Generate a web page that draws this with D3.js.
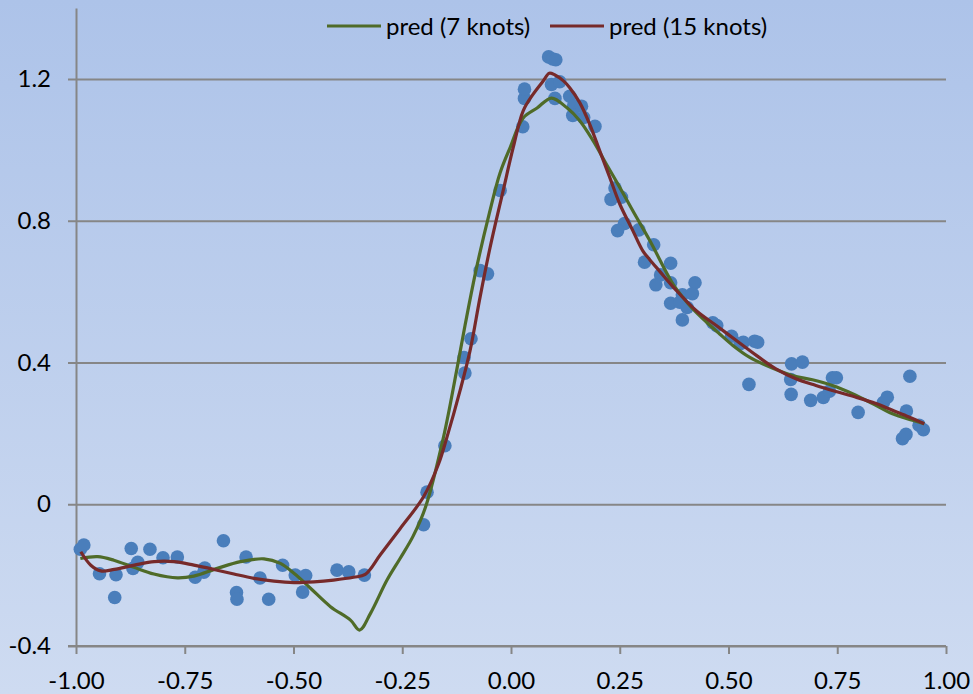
<!DOCTYPE html>
<html>
<head>
<meta charset="utf-8">
<script src="https://cdn.jsdelivr.net/npm/d3@7"></script>
<style>
  html, body { margin: 0; padding: 0; background: #c0d1ee; }
  svg { display: block; }
  text { font-family: Lato, "Open Sans", "Liberation Sans", sans-serif; fill: #000; }
</style>
</head>
<body>
<svg id="chart" width="973" height="694"></svg>
<script>
// Observed data (scatter)
const obsX = [-0.990,-0.982,-0.946,-0.908,-0.911,-0.873,-0.869,-0.858,-0.830,-0.800,-0.767,-0.726,-0.704,-0.706,-0.661,-0.631,-0.630,-0.609,-0.577,-0.557,-0.525,-0.496,-0.472,-0.479,-0.400,-0.373,-0.337,
  -0.201,-0.193,-0.152,-0.106,-0.108,-0.092,-0.071,-0.054,-0.025,
  0.027,0.031,0.031,0.0865,0.096,0.103,0.093,0.112,0.101,0.135,0.144,0.162,0.142,0.167,0.193,
  0.239,0.230,0.254,0.261,0.245,0.294,0.307,0.328,0.367,0.344,0.333,0.367,0.423,0.394,0.417,0.367,0.388,0.405,0.394,0.464,0.473,0.507,0.527,0.534,0.560,0.567,0.547,
  0.645,0.670,0.643,0.644,0.689,0.718,0.732,0.739,0.748,0.798,0.856,0.865,0.917,0.909,0.938,0.948,0.900,0.908];
const obsY = [-0.127,-0.115,-0.196,-0.199,-0.263,-0.125,-0.181,-0.164,-0.127,-0.151,-0.149,-0.206,-0.180,-0.192,-0.103,-0.249,-0.268,-0.149,-0.208,-0.268,-0.172,-0.200,-0.201,-0.248,-0.186,-0.191,-0.200,
  -0.058,0.034,0.165,0.370,0.414,0.467,0.659,0.650,0.885,
  1.065,1.145,1.171,1.262,1.256,1.254,1.184,1.192,1.145,1.151,1.124,1.123,1.097,1.091,1.066,
  0.892,0.860,0.866,0.792,0.772,0.774,0.683,0.732,0.680,0.647,0.619,0.625,0.625,0.591,0.594,0.567,0.570,0.555,0.520,0.512,0.504,0.474,0.453,0.457,0.460,0.457,0.338,
  0.396,0.401,0.352,0.310,0.293,0.301,0.319,0.357,0.357,0.259,0.287,0.302,0.361,0.263,0.223,0.210,0.185,0.197];

// Spline prediction with 7 knots
const pred7X = [-0.990,-0.950,-0.913,-0.867,-0.821,-0.767,-0.729,-0.675,-0.622,-0.568,-0.530,-0.499,-0.461,-0.415,-0.369,-0.348,-0.323,-0.285,-0.255,-0.225,-0.197,-0.155,-0.125,-0.102,-0.079,-0.050,-0.025,-0.002,0.028,0.060,0.093,0.128,0.158,0.189,0.219,0.250,0.280,0.319,0.372,0.395,0.418,0.449,0.479,0.510,0.548,0.586,0.647,0.693,0.739,0.785,0.831,0.877,0.923,0.950];
const pred7Y = [-0.153,-0.148,-0.158,-0.178,-0.197,-0.208,-0.203,-0.181,-0.162,-0.154,-0.167,-0.195,-0.237,-0.289,-0.327,-0.355,-0.308,-0.214,-0.153,-0.090,-0.010,0.190,0.377,0.528,0.668,0.820,0.935,1.006,1.090,1.118,1.146,1.119,1.082,1.025,0.960,0.894,0.828,0.744,0.622,0.584,0.551,0.514,0.481,0.448,0.415,0.392,0.363,0.351,0.335,0.312,0.284,0.255,0.237,0.227];

// Spline prediction with 15 knots
const pred15X = [-0.989,-0.966,-0.943,-0.912,-0.866,-0.820,-0.775,-0.729,-0.683,-0.637,-0.591,-0.545,-0.499,-0.453,-0.408,-0.362,-0.335,-0.300,-0.255,-0.201,-0.167,-0.147,-0.117,-0.094,-0.071,-0.048,-0.018,0.005,0.028,0.051,0.074,0.088,0.101,0.120,0.135,0.158,0.181,0.204,0.227,0.250,0.280,0.303,0.319,0.342,0.380,0.426,0.472,0.518,0.564,0.609,0.655,0.701,0.747,0.793,0.839,0.877,0.915,0.950];
const pred15Y = [-0.134,-0.172,-0.188,-0.184,-0.172,-0.162,-0.162,-0.172,-0.184,-0.197,-0.209,-0.217,-0.221,-0.219,-0.214,-0.206,-0.198,-0.142,-0.069,0.021,0.112,0.190,0.321,0.434,0.585,0.725,0.885,1.006,1.110,1.157,1.194,1.216,1.211,1.195,1.175,1.133,1.072,0.997,0.922,0.847,0.772,0.715,0.690,0.657,0.603,0.546,0.504,0.462,0.420,0.382,0.354,0.335,0.318,0.302,0.284,0.265,0.246,0.227];

const xTickValues = [-1, -0.75, -0.5, -0.25, 0, 0.25, 0.5, 0.75, 1];
const xTickLabels = ["-1.00","-0.75","-0.50","-0.25","0.00","0.25","0.50","0.75","1.00"];
const yTickValues = [-0.4, 0, 0.4, 0.8, 1.2];
const yTickLabels = ["-0.4","0","0.4","0.8","1.2"];
const seriesNames = ["pred (7 knots)", "pred (15 knots)"];
const seriesColors = ["#4f6b28", "#772a2a"];

const svg = d3.select("#chart");
const W = 973, H = 694;
const plot = { left: 76, right: 946, top: 8, bottom: 646 };

const defs = svg.append("defs");
const grad = defs.append("linearGradient").attr("id", "bg").attr("x1", 0).attr("y1", 0).attr("x2", 0).attr("y2", 1);
grad.append("stop").attr("offset", "0%").attr("stop-color", "#adc3e9");
grad.append("stop").attr("offset", "100%").attr("stop-color", "#cedbf1");
svg.append("rect").attr("width", W).attr("height", H).attr("fill", "url(#bg)");

const x = d3.scaleLinear().domain([-1, 1]).range([plot.left, plot.right]);
const y = d3.scaleLinear().domain([-0.4, 1.4]).range([plot.bottom, plot.top]);

const axisColor = "#868686";

// Y axis with horizontal gridlines
const yAxis = svg.append("g").attr("transform", `translate(${plot.left},0)`)
  .call(d3.axisLeft(y).tickValues(yTickValues).tickFormat((d, i) => yTickLabels[i])
    .tickSizeInner(-(plot.right - plot.left)).tickSizeOuter(0).tickPadding(25));
yAxis.select(".domain").attr("stroke", axisColor).attr("stroke-width", 2);
yAxis.selectAll(".tick line").attr("x1", -8).attr("stroke", axisColor).attr("stroke-width", 2);
yAxis.selectAll(".tick text").attr("font-size", 24).style("font-family", "Lato, 'Open Sans', sans-serif");

// X axis
const xAxis = svg.append("g").attr("transform", `translate(0,${plot.bottom})`)
  .call(d3.axisBottom(x).tickValues(xTickValues).tickFormat((d, i) => xTickLabels[i])
    .tickSizeInner(8).tickSizeOuter(0).tickPadding(18));
xAxis.select(".domain").attr("d", `M${plot.left - 8},0H${plot.right}`).attr("stroke", axisColor).attr("stroke-width", 2);
xAxis.selectAll(".tick line").attr("stroke", axisColor).attr("stroke-width", 2);
xAxis.selectAll(".tick text").attr("font-size", 24).style("font-family", "Lato, 'Open Sans', sans-serif");

// Observed points
const pts = obsX.map((v, i) => [v, obsY[i]]);
svg.append("g").selectAll("circle").data(pts).join("circle")
  .attr("cx", d => x(d[0])).attr("cy", d => y(d[1])).attr("r", 6.8)
  .attr("fill", "#4a7ebb");

// Prediction curves
const line = d3.line().x(d => x(d[0])).y(d => y(d[1])).curve(d3.curveCatmullRom.alpha(0.5));
const series = [
  pred7X.map((v, i) => [v, pred7Y[i]]),
  pred15X.map((v, i) => [v, pred15Y[i]])
];
svg.append("g").selectAll("path").data(series).join("path")
  .attr("d", line).attr("fill", "none")
  .attr("stroke", (d, i) => seriesColors[i]).attr("stroke-width", 3.2)
  .attr("stroke-linejoin", "round");

// Legend
const legendItems = [{ x: 327 }, { x: 550 }];
const lg = svg.append("g");
legendItems.forEach((it, i) => {
  lg.append("line").attr("x1", it.x).attr("x2", it.x + 54).attr("y1", 26).attr("y2", 26)
    .attr("stroke", seriesColors[i]).attr("stroke-width", 3.2);
  lg.append("text").attr("x", it.x + 59).attr("y", 35).attr("font-size", 24).text(seriesNames[i]);
});
</script>
</body>
</html>
